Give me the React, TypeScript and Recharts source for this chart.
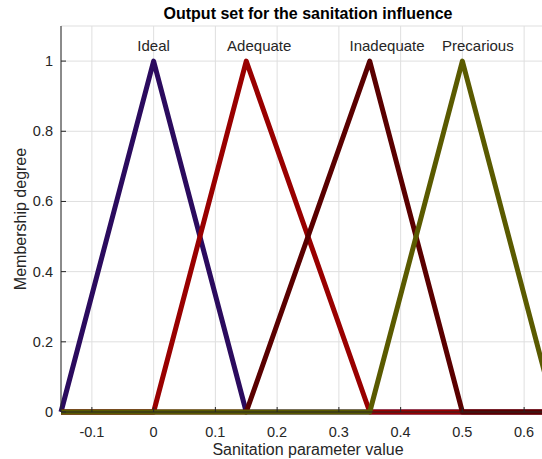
import { LineChart, Line, XAxis, YAxis, CartesianGrid, ReferenceDot, Label } from 'recharts'

// breakpoints of the triangular membership functions
const xValues = [-0.15, 0, 0.15, 0.35, 0.5, 0.65]
const ideal = [0, 1, 0, 0, 0, 0]
const adequate = [0, 0, 1, 0, 0, 0]
const inadequate = [0, 0, 0, 1, 0, 0]
const precarious = [0, 0, 0, 0, 1, 0]

const xTicks = [-0.1, 0, 0.1, 0.2, 0.3, 0.4, 0.5, 0.6]
const yTicks = [0, 0.2, 0.4, 0.6, 0.8, 1]

const setNames = ['Ideal', 'Adequate', 'Inadequate', 'Precarious']
const labelX = [0, 0.171, 0.378, 0.525]
const labelY = 1.045

const data = xValues.map((x, i) => ({
  x,
  ideal: ideal[i],
  adequate: adequate[i],
  inadequate: inadequate[i],
  precarious: precarious[i],
}))

const series = [
  { key: 'ideal', color: '#2b0b5e' },
  { key: 'adequate', color: '#990000' },
  { key: 'inadequate', color: '#5a0000' },
  { key: 'precarious', color: '#5a5a00' },
]

const FONT = '"Liberation Sans", Arial, Helvetica, sans-serif'
const INK = '#262626'

const fmt = (v: number) => (v === 0 ? '0' : String(Math.round(v * 10) / 10))

function BottomTick(props: any) {
  const { x, y, payload } = props
  return (
    <g>
      <line x1={x} x2={x} y1={y} y2={y - 5} stroke={INK} strokeWidth={1} />
      <text x={x} y={y + 25} textAnchor="middle" fontSize={14.5} fill={INK} fontFamily={FONT}>
        {fmt(payload.value)}
      </text>
    </g>
  )
}

function TopTick(props: any) {
  const { x, y } = props
  return <line x1={x} x2={x} y1={y} y2={y + 5} stroke={INK} strokeWidth={1} />
}

function LeftTick(props: any) {
  const { x, y, payload } = props
  return (
    <g>
      <line x1={x} x2={x + 5} y1={y} y2={y} stroke={INK} strokeWidth={1} />
      <text x={x - 8} y={y + 5} textAnchor="end" fontSize={14.5} fill={INK} fontFamily={FONT}>
        {fmt(payload.value)}
      </text>
    </g>
  )
}

export default function App() {
  return (
    <div style={{ position: 'absolute', left: 0, top: 0, width: 542, height: 459, overflow: 'hidden', background: '#fff' }}>
      <LineChart
        width={570}
        height={459}
        data={data}
        margin={{ top: 26, right: 15, bottom: 0, left: 0 }}
        style={{ fontFamily: FONT }}
      >
        <CartesianGrid stroke="#dfdfdf" strokeWidth={1} />
        <XAxis
          dataKey="x"
          type="number"
          domain={[-0.15, 0.65]}
          ticks={xTicks}
          height={47}
          tickSize={0}
          tickMargin={0}
          tick={<BottomTick />}
          tickLine={false}
          axisLine={{ stroke: INK }}
          interval={0}
        >
          <Label
            value="Sanitation parameter value"
            position="insideBottom"
            offset={4}
            style={{ fontSize: 16, fill: INK, fontFamily: FONT }}
          />
        </XAxis>
        <XAxis
          xAxisId="top"
          orientation="top"
          dataKey="x"
          type="number"
          domain={[-0.15, 0.65]}
          ticks={xTicks}
          height={0}
          tickSize={0}
          tickMargin={0}
          tick={<TopTick />}
          tickLine={false}
          axisLine={{ stroke: INK }}
          interval={0}
        />
        <YAxis
          type="number"
          domain={[0, 1.1]}
          ticks={yTicks}
          width={61}
          tickSize={0}
          tickMargin={0}
          tick={<LeftTick />}
          tickLine={false}
          axisLine={{ stroke: INK }}
          interval={0}
        >
          <Label
            value="Membership degree"
            angle={-90}
            position="insideLeft"
            offset={20}
            style={{ fontSize: 16, fill: INK, fontFamily: FONT, textAnchor: 'middle' }}
          />
        </YAxis>
        {series.map((s) => (
          <Line
            key={s.key}
            type="linear"
            dataKey={s.key}
            stroke={s.color}
            strokeWidth={5}
            strokeLinejoin="round"
            dot={false}
            activeDot={false}
            isAnimationActive={false}
          />
        ))}
        {setNames.map((name, i) => (
          <ReferenceDot
            key={name}
            x={labelX[i]}
            y={labelY}
            r={0}
            fill="none"
            stroke="none"
            label={{ value: name, position: 'center', fontSize: 15, fill: INK, fontFamily: FONT }}
          />
        ))}
      </LineChart>
      <div
        style={{
          position: 'absolute',
          left: 0,
          width: 616,
          top: 6,
          lineHeight: '16px',
          textAlign: 'center',
          fontFamily: FONT,
          fontWeight: 'bold',
          fontSize: 16,
          color: '#000',
        }}
      >
        Output set for the sanitation influence
      </div>
    </div>
  )
}
